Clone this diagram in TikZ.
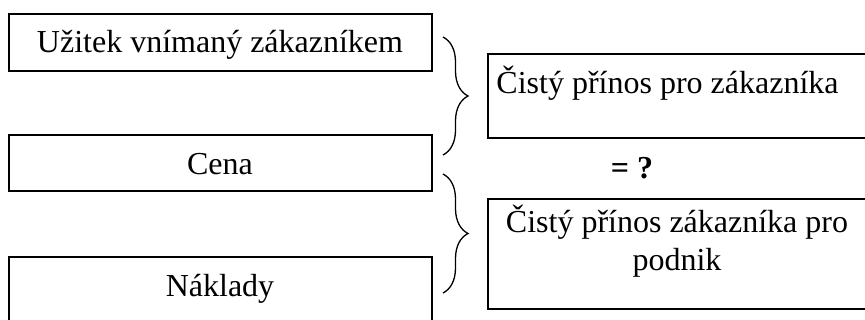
\documentclass[tikz,border=0pt]{standalone}
\usepackage{fontspec}
\setmainfont{Liberation Serif}
\usetikzlibrary{calc, positioning, decorations.pathreplacing}

\begin{document}
\begin{tikzpicture}[x=1pt, y=-1pt,
    hop/.style={draw, line width=1.4pt, inner sep=0pt},
    chu/.style={font=\fontsize{32}{38}\selectfont, inner sep=0pt, anchor=base},
    ngoac/.style={decorate, decoration={brace, amplitude=25pt}, line width=1.3pt}]
    \useasboundingbox (0,0) rectangle (865,320);
    \clip (0,0) rectangle (865,320);

    % 1. Ba ô bên trái
    \node[hop, minimum width=423pt, minimum height=57pt] (uzitek) at (220.5,42.5) {};
    \node[hop, minimum width=423pt, minimum height=56pt] (cena) at (220.5,163) {};
    \node[hop, minimum width=423pt, minimum height=66pt] (naklady) at (220.5,290) {};

    \node[chu] (uzitek-t) at (220,53) {Užitek vnímaný zákazníkem};
    \node[chu] (cena-t) at (220,175) {Cena};
    \node[chu] (naklady-t) at (220,297) {Náklady};

    % 2. Hai ô bên phải
    \node[hop, minimum width=384pt, minimum height=84pt] (prinos) at (680,96) {};
    \node[hop, minimum width=384pt, minimum height=110pt] (podnik) at (680,254) {};

    \node[chu] (prinos-t) at (667.5,94) {Čistý přínos pro zákazníka};
    % base của nút hai dòng nằm ở dòng cuối
    \node[chu, align=center] (podnik-t) at (677,271) {Čistý přínos zákazníka pro\\podnik};

    % Dấu "= ?" giữa hai ô
    \node[chu] (dau) at (632,179) {\textbf{= ?}};

    % 3. Hai ngoặc nhọn
    \coordinate (n1a) at (443,37);
    \coordinate (n1b) at (443,155);
    \coordinate (n2a) at (443,174);
    \coordinate (n2b) at (443,293);
    \draw[ngoac] (n1a) -- (n1b);
    \draw[ngoac] (n2a) -- (n2b);

\end{tikzpicture}
\end{document}
